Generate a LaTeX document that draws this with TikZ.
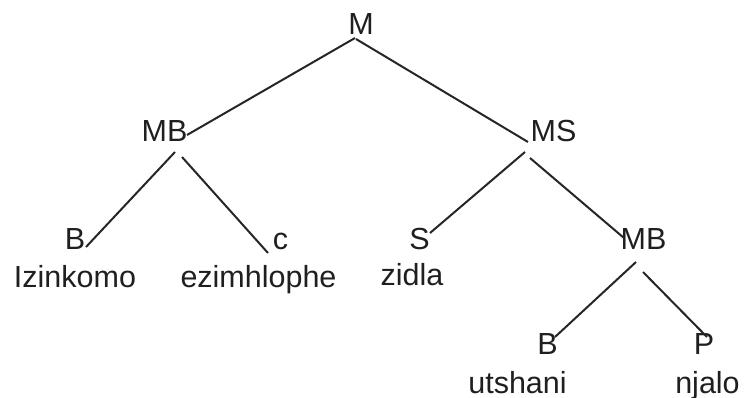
\documentclass[tikz,border=0pt]{standalone}
\usepackage{fontspec}
\setmainfont{Liberation Sans}
\begin{document}
\begin{tikzpicture}[x=1pt,y=1pt,
  lbl/.style={inner sep=0pt,anchor=base,font=\fontsize{30.5}{36}\selectfont,text=black!88},
  edge/.style={line width=2pt,black!85}]
\useasboundingbox (0,0) rectangle (745,-398);
% category labels
\node[lbl] (M)   at (361,-35)   {M};
\node[lbl] (MB)  at (164.5,-142) {MB};
\node[lbl] (MS)  at (553.5,-142) {MS};
\node[lbl] (B1)  at (75,-250)   {B};
\node[lbl] (C)   at (280.5,-250) {c};
\node[lbl] (S)   at (419.5,-250) {S};
\node[lbl] (MB2) at (643.5,-250) {MB};
\node[lbl] (B2)  at (547.5,-355) {B};
\node[lbl] (P)   at (704,-355)  {P};
% words
\node[lbl] (w1) at (75,-288)    {Izinkomo};
\node[lbl] (w2) at (258.5,-288) {ezimhlophe};
\node[lbl] (w3) at (412,-286)   {zidla};
\node[lbl] (w4) at (517.5,-393) {utshani};
\node[lbl] (w5) at (707.5,-393) {njalo};
% branches
\draw[edge] ([xshift=-6pt,yshift=-3pt]M.base) -- ([xshift=22.5pt,yshift=7pt]MB.base);
\draw[edge] ([xshift=-5pt,yshift=-4pt]M.base) -- ([xshift=-25.5pt]MS.base);
\draw[edge] ([xshift=10.5pt,yshift=-10pt]MB.base) -- ([xshift=11pt,yshift=3pt]B1.base);
\draw[edge] ([xshift=17.5pt,yshift=-15pt]MB.base) -- ([xshift=-12.5pt,yshift=-3pt]C.base);
\draw[edge] ([xshift=-28.5pt,yshift=-10pt]MS.base) -- ([xshift=10.5pt,yshift=17pt]S.base);
\draw[edge] ([xshift=-23.5pt,yshift=-16pt]MS.base) -- ([xshift=-19.5pt,yshift=12pt]MB2.base);
\draw[edge] ([xshift=-7.5pt,yshift=-12pt]MB2.base) -- ([xshift=7.5pt,yshift=18pt]B2.base);
\draw[edge] ([xshift=-0.5pt,yshift=-22pt]MB2.base) -- ([xshift=3pt,yshift=18pt]P.base);
\end{tikzpicture}
\end{document}
